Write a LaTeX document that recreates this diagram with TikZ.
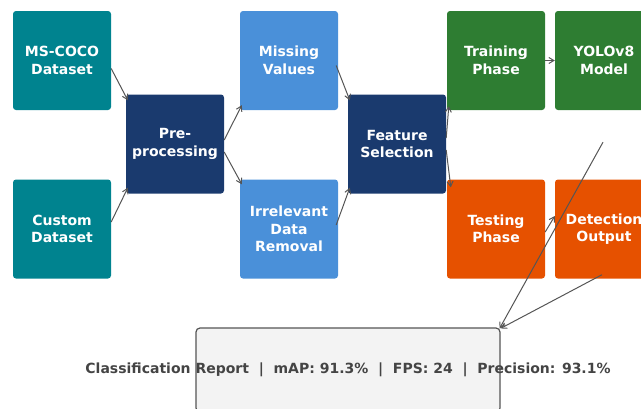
\documentclass[tikz,border=0pt]{standalone}
\usepackage{fontspec}
\setmainfont{DejaVu Sans}
\usetikzlibrary{arrows.meta,calc}
\definecolor{cteal}{RGB}{0,131,143}
\definecolor{cnavy}{RGB}{26,58,110}
\definecolor{cblue}{RGB}{74,144,217}
\definecolor{cgreen}{RGB}{46,125,50}
\definecolor{corange}{RGB}{230,81,0}
\definecolor{cline}{RGB}{85,85,85}
\definecolor{cgrayfill}{RGB}{243,243,243}
\definecolor{ctext}{RGB}{68,68,68}
\tikzset{
  box/.style={minimum width=98pt,minimum height=99pt,rounded corners=3pt,align=center,text=white,
    font=\fontsize{14}{17.5}\selectfont\bfseries,inner sep=0pt},
  conn/.style={draw=cline,line width=1pt,-{Straight Barb[length=5pt,width=6pt]}},
}
\begin{document}
\begin{tikzpicture}[x=1pt,y=-1pt]
\useasboundingbox (0,0) rectangle (641,408);
\node[box,fill=cteal] (ms) at (62,60.5) {MS-COCO\\Dataset};
\node[box,fill=cteal] (cu) at (62,229) {Custom\\Dataset};
\node[box,fill=cnavy] (pre) at (175,144) {Pre-\\processing};
\node[box,fill=cblue] (mv) at (289,60.5) {Missing\\Values};
\node[box,fill=cblue] (ir) at (289,229) {Irrelevant\\Data\\Removal};
\node[box,fill=cnavy] (fs) at (397,144) {Feature\\Selection};
\node[box,fill=cgreen] (tr) at (496,60.5) {Training\\Phase};
\node[box,fill=cgreen] (yo) at (604,60.5) {YOLOv8\\Model};
\node[box,fill=corange] (te) at (496,229) {Testing\\Phase};
\node[box,fill=corange] (de) at (604,229) {Detection\\Output};
\node[draw=cline,line width=1.2pt,fill=cgrayfill,rounded corners=4pt,minimum width=304pt,minimum height=84pt,inner sep=0pt,
  label={[text=ctext,font=\fontsize{14}{17}\selectfont\bfseries]center:Classification Report \ |\ \ mAP: 91.3\% \ |\ \ FPS: 24 \ |\ \ Precision: 93.1\%}] (rep) at (348,370) {};
\draw[conn] ($(ms.east)+(0,8)$) -- ($(pre.north west)+(2,6)$);
\draw[conn] ($(cu.east)+(0,-7)$) -- ($(pre.south west)+(2,-6)$);
\draw[conn] ($(pre.east)+(0,-4)$) -- ($(mv.south west)+(2,-5)$);
\draw[conn] ($(pre.east)+(0,8)$) -- ($(ir.north west)+(2,5)$);
\draw[conn] ($(mv.east)+(-2,5)$) -- ($(fs.north west)+(2,6)$);
\draw[conn] ($(ir.east)+(-2,-4)$) -- ($(fs.south west)+(2,-6)$);
\draw[conn] ($(fs.east)+(0,-6)$) -- ($(tr.south west)+(2,-4)$);
\draw[conn] ($(fs.east)+(0,6)$) -- ($(te.north west)+(4,8)$);
\draw[conn] (tr.east) -- (yo.west);
\draw[conn] ($(te.east)+(0,3)$) -- ($(de.west)+(0,-13)$);
\draw[conn] ($(yo.south)+(-1,32)$) -- ($(rep.north east)+(-1,1)$);
\draw[conn] ($(de.south)+(-2,-4)$) -- ($(rep.north east)+(0,1)$);
\end{tikzpicture}
\end{document}
